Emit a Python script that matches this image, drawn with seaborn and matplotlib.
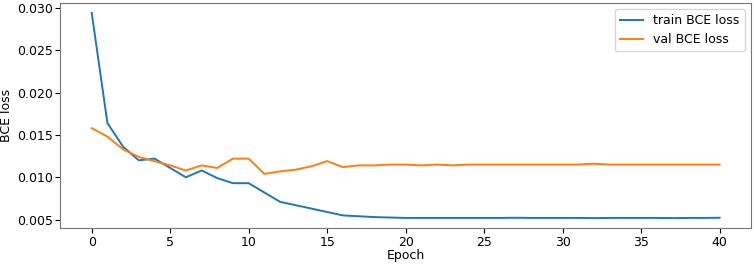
import numpy as np
import pandas as pd
import matplotlib
matplotlib.use('Agg')
import matplotlib.pyplot as plt
import seaborn as sns

epochs = list(range(41))
train_loss = [0.0294, 0.0164, 0.0136, 0.0120, 0.0122, 0.0111, 0.0100, 0.0108, 0.0099, 0.0093,
              0.0093, 0.0082, 0.0071, 0.0067, 0.0063, 0.0059, 0.0055, 0.0054, 0.0053, 0.00525,
              0.0052, 0.0052, 0.0052, 0.0052, 0.0052, 0.0052, 0.0052, 0.00522, 0.0052, 0.0052,
              0.0052, 0.0052, 0.00518, 0.0052, 0.0052, 0.0052, 0.0052, 0.00518, 0.0052, 0.0052,
              0.00522]
val_loss = [0.0158, 0.0148, 0.0133, 0.0124, 0.0119, 0.0114, 0.0108, 0.0114, 0.0111, 0.0122,
            0.0122, 0.0104, 0.0107, 0.0109, 0.0113, 0.0119, 0.0112, 0.0114, 0.0114, 0.0115,
            0.0115, 0.0114, 0.0115, 0.0114, 0.0115, 0.0115, 0.0115, 0.0115, 0.0115, 0.0115,
            0.0115, 0.0115, 0.0116, 0.0115, 0.0115, 0.0115, 0.0115, 0.0115, 0.0115, 0.0115,
            0.0115]

df = pd.DataFrame({'Epoch': epochs * 2,
                   'loss': train_loss + val_loss,
                   'series': ['train BCE loss'] * 41 + ['val BCE loss'] * 41})

plt.rcParams['font.size'] = 9

fig, ax = plt.subplots(figsize=(7.54, 2.64), dpi=100)
sns.lineplot(data=df, x='Epoch', y='loss', hue='series',
             palette=['#1f77b4', '#ff7f0e'], ax=ax, linewidth=1.4)
ax.set_ylabel('BCE loss', labelpad=3)
ax.set_xlabel('Epoch', labelpad=0)
ax.set_xticks(range(0, 41, 5))
ax.set_yticks([0.005, 0.010, 0.015, 0.020, 0.025, 0.030])
ax.set_yticklabels(['0.005', '0.010', '0.015', '0.020', '0.025', '0.030'])
ax.tick_params(length=3.5, pad=2)
ax.legend(loc='upper right', title=None, handlelength=1.9)
for s in ax.spines.values():
    s.set_color('#777777')

fig.subplots_adjust(left=0.08, right=0.996, top=0.99, bottom=0.135)
fig.savefig('out.png')
